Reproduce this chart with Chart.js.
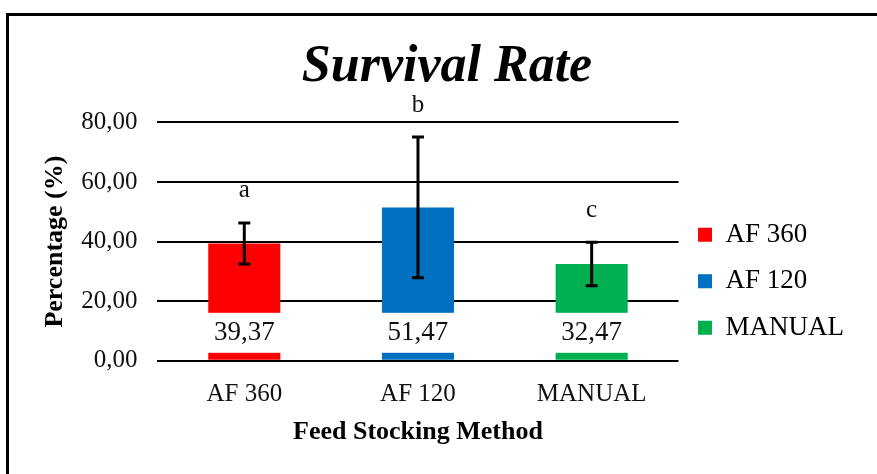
<!DOCTYPE html>
<html><head><meta charset="utf-8">
<script src="https://cdn.jsdelivr.net/npm/chart.js@4/dist/chart.umd.min.js"></script>
<style>
html,body{margin:0;padding:0;background:#fff;overflow:hidden;width:877px;height:474px}
#frame{position:absolute;left:6px;top:13px;width:900px;height:520px;border:3px solid #000;box-sizing:border-box}
#wrap{position:absolute;left:0;top:0;width:900px;height:474px}
</style></head><body>
<div id="frame"></div>
<div id="wrap"><canvas id="c"></canvas></div>
<script>
const categories = ['AF 360', 'AF 120', 'MANUAL'];
const survival = [39.37, 51.47, 32.47];
const stdDev = [6.9, 23.6, 7.3];
const groupLetters = ['a', 'b', 'c'];
const yTicks = [0, 20, 40, 60, 80];
const barColors = ['#FF0000', '#0070C0', '#00B050'];

const SERIF = '"Liberation Serif", "Times New Roman", serif';
const fmt = v => v.toFixed(2).replace('.', ',');

// value plates, error bars and significance letters on top of each bar
const annotate = {
  id: 'annotate',
  afterDatasetsDraw(chart) {
    const ctx = chart.ctx;
    const y = chart.scales.y;
    const meta = chart.getDatasetMeta(0);
    meta.data.forEach((bar, i) => {
      const x = bar.x, w = bar.width, base = bar.base;
      ctx.save();
      ctx.fillStyle = '#fff';
      ctx.fillRect(x - w / 2 - 2, base - 47, w + 4, 40);
      ctx.fillStyle = '#111';
      ctx.font = '27px ' + SERIF;
      ctx.textAlign = 'center';
      ctx.textBaseline = 'middle';
      ctx.fillText(fmt(survival[i]), x, base - 27);

      const top = y.getPixelForValue(survival[i] + stdDev[i]);
      const bot = y.getPixelForValue(survival[i] - stdDev[i]);
      ctx.strokeStyle = '#000';
      ctx.lineWidth = 3;
      ctx.beginPath();
      ctx.moveTo(x, top); ctx.lineTo(x, bot);
      ctx.moveTo(x - 6, top); ctx.lineTo(x + 6, top);
      ctx.moveTo(x - 6, bot); ctx.lineTo(x + 6, bot);
      ctx.stroke();

      ctx.font = '25px ' + SERIF;
      ctx.fillText(groupLetters[i], x, top - 32);
      ctx.restore();
    });
  }
};

new Chart(document.getElementById('c'), {
  type: 'bar',
  data: {
    labels: categories,
    datasets: [{
      label: 'Survival Rate',
      data: survival,
      backgroundColor: barColors,
      borderWidth: 0,
      categoryPercentage: 1,
      barPercentage: 0.415
    }]
  },
  options: {
    responsive: true,
    maintainAspectRatio: false,
    animation: false,
    layout: { padding: { top: 0, right: 46, bottom: 22, left: 40 } },
    plugins: {
      tooltip: { enabled: false },
      title: {
        display: true,
        text: 'Survival Rate',
        color: '#000',
        font: { family: SERIF, size: 52, weight: 'bold', style: 'italic' },
        padding: { top: 36, bottom: 24 }
      },
      legend: {
        position: 'right',
        align: 'end',
        fullSize: false,
        labels: {
          color: '#111',
          font: { family: SERIF, size: 27 },
          boxWidth: 14,
          boxHeight: 14,
          padding: 19.5,
          generateLabels: () => categories.map((c, i) => ({
            text: c, fillStyle: barColors[i], strokeStyle: barColors[i], lineWidth: 0, hidden: false, index: i
          }))
        }
      }
    },
    scales: {
      y: {
        min: 0, max: 80,
        afterBuildTicks: s => { s.ticks = yTicks.map(v => ({ value: v })); },
        ticks: { color: '#111', font: { family: SERIF, size: 25 }, padding: 20, callback: v => fmt(v) },
        grid: { color: '#000', lineWidth: 2, drawTicks: false },
        border: { display: false },
        title: { display: true, text: 'Percentage (%)', color: '#000', font: { family: SERIF, size: 26, weight: 'bold' }, padding: { top: 0, bottom: -10 } }
      },
      x: {
        ticks: { color: '#111', font: { family: SERIF, size: 25 }, padding: 19 },
        grid: { display: false, drawTicks: false },
        border: { display: false },
        title: { display: true, text: 'Feed Stocking Method', color: '#000', font: { family: SERIF, size: 26, weight: 'bold' }, padding: { top: -12 } }
      }
    }
  },
  plugins: [annotate]
});
</script>
</body></html>
